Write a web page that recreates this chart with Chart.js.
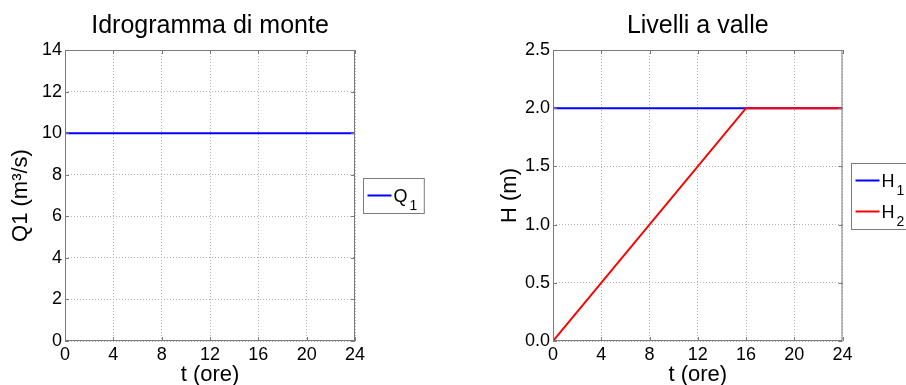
<!DOCTYPE html>
<html>
<head>
<meta charset="utf-8">
<script src="https://cdn.jsdelivr.net/npm/chart.js@4/dist/chart.umd.min.js"></script>
<style>
  html, body { margin: 0; padding: 0; background: #fff; }
  #wrap { position: relative; width: 906px; height: 385px; overflow: hidden; }
  canvas { position: absolute; top: 0; }
</style>
</head>
<body>
<div id="wrap">
  <canvas id="monte" width="453" height="385" style="left:0"></canvas>
  <canvas id="valle" width="453" height="385" style="left:453px"></canvas>
</div>
<script>
// Upstream hydrograph: constant inflow
const hoursQ1 = [0, 24];
const flowQ1 = [10, 10];

// Downstream levels
const hoursH1 = [0, 24];
const levelH1 = [2.0, 2.0];
const hoursH2 = [0, 16, 24];
const levelH2 = [0.0, 2.0, 2.0];

// Axis ticks
const timeTicks = [0, 4, 8, 12, 16, 20, 24];
const flowTicks = [0, 2, 4, 6, 8, 10, 12, 14];
const levelTicks = [0.0, 0.5, 1.0, 1.5, 2.0, 2.5];

// Legend labels (main text + subscript)
const legendQ = [{ main: 'Q', sub: '1' }];
const legendH = [{ main: 'H', sub: '1' }, { main: 'H', sub: '2' }];

const FONT = "'Liberation Sans', Arial, Helvetica, sans-serif";
const BOX_COLOR = '#7a7a7a';

function points(xs, ys) {
  return xs.map((x, i) => ({ x: x, y: ys[i] }));
}

// Axes box with small inward tick marks, drawn over the data
const axesBox = {
  id: 'axesBox',
  afterDatasetsDraw(chart) {
    const { ctx, chartArea: a, scales } = chart;
    ctx.save();
    ctx.strokeStyle = BOX_COLOR;
    ctx.lineWidth = 1;
    ctx.setLineDash([]);
    ctx.strokeRect(a.left + 0.5, a.top + 0.5, a.right - a.left - 1, a.bottom - a.top - 1);
    const len = 4;
    ctx.beginPath();
    scales.x.ticks.forEach(t => {
      const px = Math.round(scales.x.getPixelForValue(t.value)) + 0.5;
      ctx.moveTo(px, a.bottom); ctx.lineTo(px, a.bottom - len);
      ctx.moveTo(px, a.top); ctx.lineTo(px, a.top + len);
    });
    scales.y.ticks.forEach(t => {
      const py = Math.round(scales.y.getPixelForValue(t.value)) + 0.5;
      ctx.moveTo(a.left, py); ctx.lineTo(a.left + len, py);
      ctx.moveTo(a.right, py); ctx.lineTo(a.right - len, py);
    });
    ctx.stroke();
    ctx.restore();
  }
};

// Boxed legend placed to the right of the axes
const boxLegend = {
  id: 'boxLegend',
  afterDraw(chart, args, opts) {
    const { ctx, chartArea: a } = chart;
    const entries = opts.entries || [];
    const rowH = 31;
    const mainFont = '18px ' + FONT;
    const subFont = '14px ' + FONT;
    ctx.save();
    let maxW = 0;
    entries.forEach(e => {
      ctx.font = mainFont; const w1 = ctx.measureText(e.main).width;
      ctx.font = subFont; const w2 = ctx.measureText(e.sub).width;
      maxW = Math.max(maxW, w1 + 2 + w2);
    });
    const boxW = 30 + maxW + 7;
    const boxH = rowH * entries.length + 4;
    const x0 = Math.round(a.right + 8) + 0.5;
    const y0 = Math.round((a.top + a.bottom) / 2 - boxH / 2) + 0.5;
    ctx.fillStyle = '#fff';
    ctx.fillRect(x0, y0, boxW, boxH);
    ctx.strokeStyle = BOX_COLOR;
    ctx.lineWidth = 1;
    ctx.strokeRect(x0, y0, boxW, boxH);
    entries.forEach((e, i) => {
      const ds = chart.data.datasets[i];
      const cy = y0 + 17 + rowH * i;
      ctx.strokeStyle = ds.borderColor;
      ctx.lineWidth = 2;
      ctx.beginPath();
      ctx.moveTo(x0 + 4, cy); ctx.lineTo(x0 + 28, cy);
      ctx.stroke();
      ctx.fillStyle = '#000';
      ctx.textBaseline = 'alphabetic';
      ctx.textAlign = 'left';
      ctx.font = mainFont;
      ctx.fillText(e.main, x0 + 30, cy + 6);
      const w1 = ctx.measureText(e.main).width;
      ctx.font = subFont;
      ctx.fillText(e.sub, x0 + 30 + w1 + 2, cy + 14);
    });
    ctx.restore();
  }
};

function makeChart(canvasId, cfg) {
  return new Chart(document.getElementById(canvasId), {
    type: 'line',
    data: { datasets: cfg.datasets },
    plugins: [axesBox, boxLegend],
    options: {
      responsive: false,
      animation: false,
      devicePixelRatio: 1,
      layout: { padding: { left: 0, top: 0, right: cfg.padRight, bottom: 0 } },
      elements: { point: { radius: 0 }, line: { tension: 0, borderWidth: 2 } },
      plugins: {
        legend: { display: false },
        tooltip: { enabled: false },
        title: {
          display: true,
          text: cfg.title,
          fullSize: false,
          color: '#000',
          font: { family: FONT, size: 25, weight: 'normal', lineHeight: 1.2 },
          padding: { top: 11, bottom: 9 }
        },
        boxLegend: { entries: cfg.legend }
      },
      scales: {
        x: {
          type: 'linear',
          min: 0, max: 24,
          afterBuildTicks: s => { s.ticks = timeTicks.map(v => ({ value: v })); },
          afterFit: s => { s.height = 44; },
          ticks: { color: '#000', font: { family: FONT, size: 18 }, padding: 3, maxRotation: 0,
                   callback: v => String(v) },
          grid: { color: '#b4b4b4', drawTicks: false, lineWidth: 1 },
          border: { display: false, dash: [1, 2] },
          title: { display: true, text: 't (ore)', color: '#000',
                   font: { family: FONT, size: 22, lineHeight: 1 }, padding: { top: 0, bottom: -1 } }
        },
        y: {
          type: 'linear',
          min: cfg.yTicks[0], max: cfg.yTicks[cfg.yTicks.length - 1],
          afterBuildTicks: s => { s.ticks = cfg.yTicks.map(v => ({ value: v })); },
          afterFit: s => { s.width = cfg.yWidth; },
          ticks: { color: '#000', font: { family: FONT, size: 18 }, padding: 3,
                   callback: cfg.yFormat },
          grid: { color: '#b4b4b4', drawTicks: false, lineWidth: 1 },
          border: { display: false, dash: [1, 2] },
          title: { display: true, text: cfg.yTitle, color: '#000',
                   font: { family: FONT, size: 22, lineHeight: 1 }, padding: { top: cfg.yTitlePad, bottom: 0 } }
        }
      }
    }
  });
}

makeChart('monte', {
  title: 'Idrogramma di monte',
  yTitle: 'Q1 (m\u00B3/s)',
  yTicks: flowTicks,
  yFormat: v => String(v),
  yWidth: 65,
  yTitlePad: 10,
  padRight: 98,
  legend: legendQ,
  datasets: [
    { label: 'Q1', data: points(hoursQ1, flowQ1), borderColor: '#0000ff', backgroundColor: '#0000ff' }
  ]
});

makeChart('valle', {
  title: 'Livelli a valle',
  yTitle: 'H (m)',
  yTicks: levelTicks,
  yFormat: v => Number(v).toFixed(1),
  yWidth: 100,
  yTitlePad: 46,
  padRight: 63.5,
  legend: legendH,
  datasets: [
    // H2 drawn above H1 (lower order is drawn on top)
    { label: 'H1', order: 1, data: points(hoursH1, levelH1), borderColor: '#0000ff', backgroundColor: '#0000ff' },
    { label: 'H2', order: 0, data: points(hoursH2, levelH2), borderColor: '#ff0000', backgroundColor: '#ff0000' }
  ]
});
</script>
</body>
</html>
